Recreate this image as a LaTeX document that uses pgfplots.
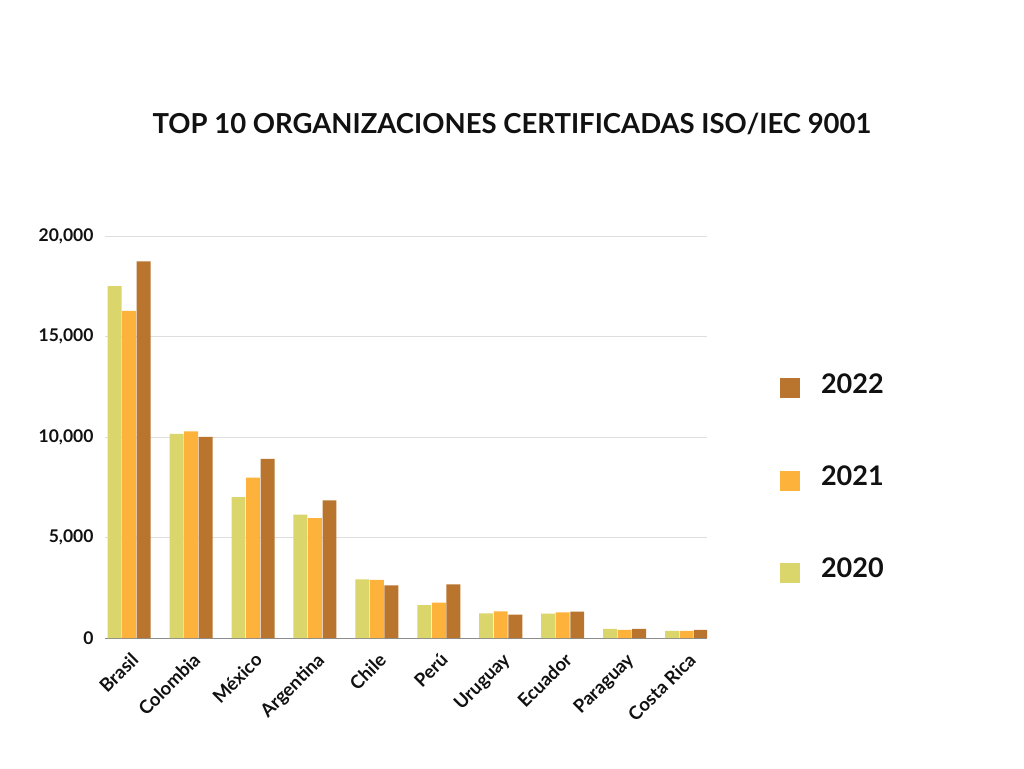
\documentclass[border=0pt]{standalone}
\usepackage{fontspec}
\setmainfont{Lato}
\usepackage{pgfplots}
\pgfplotsset{compat=1.18}
\definecolor{cA}{RGB}{218,214,108}
\definecolor{cB}{RGB}{253,179,59}
\definecolor{cC}{RGB}{185,117,46}
\definecolor{gridc}{RGB}{222,222,222}
\definecolor{axc}{RGB}{140,140,140}
\definecolor{txt}{RGB}{17,17,17}
\begin{document}
\begin{tikzpicture}[x=1pt,y=1pt]
\path[fill=white] (0,0) rectangle (1024,768);
\begin{axis}[
  at={(105pt,130pt)}, anchor=south west,
  scale only axis, width=602pt, height=402pt,
  xmin=-0.39, xmax=9.33, ymin=0, ymax=20000,
  xtick={0,...,9},
  xticklabels={Brasil,Colombia,México,Argentina,Chile,Perú,Uruguay,Ecuador,Paraguay,Costa Rica},
  ytick={0,5000,10000,15000,20000},
  ymajorgrids, grid style={gridc, line width=0.8pt},
  axis x line*=bottom, axis y line*=left,
  x axis line style={axc, line width=1pt, -},
  y axis line style={draw=none},
  tick style={draw=none},
  /pgf/number format/assume math mode=true,
  /pgf/number format/1000 sep={,},
  scaled y ticks=false,
  yticklabel style={font=\fontsize{17.5}{19}\selectfont\bfseries, text=txt, xshift=-8pt},
  xticklabel style={font=\fontsize{18.5}{20}\selectfont\bfseries, text=txt, rotate=45, anchor=north east, inner sep=1pt, xshift=-5pt, yshift=-6pt},
  title={TOP 10 ORGANIZACIONES CERTIFICADAS ISO/IEC 9001},
  title style={font=\fontsize{27.5}{30}\selectfont\bfseries, text=txt, at={(axis description cs:0.676,1.264)}, anchor=center},
  ybar, bar width=0.225,
  legend style={at={(axis description cs:1.121,0.658)}, anchor=north west, draw=none, fill=none, inner sep=0pt,
    font=\fontsize{27}{30}\selectfont\bfseries, text=txt, row sep=67.5pt,
    nodes={inner sep=0pt, anchor=base west},
    /tikz/every odd column/.append style={column sep=21pt}},
  legend image code/.code={\path[#1] (0pt,-5pt) rectangle (20pt,15pt);},
  reverse legend,
]
\addplot[fill=cA, draw=none, bar shift=-0.235] coordinates {
(0,17500) (1,10160) (2,7010) (3,6140) (4,2920) (5,1640) (6,1230) (7,1210) (8,450) (9,350)};
\addplot[fill=cB, draw=none, bar shift=0] coordinates {
(0,16280) (1,10280) (2,7980) (3,5970) (4,2890) (5,1760) (6,1330) (7,1280) (8,410) (9,360)};
\addplot[fill=cC, draw=none, bar shift=0.235] coordinates {
(0,18740) (1,10010) (2,8910) (3,6850) (4,2620) (5,2670) (6,1160) (7,1310) (8,450) (9,400)};
\legend{2020,2021,2022}
\end{axis}
\end{tikzpicture}
\end{document}
